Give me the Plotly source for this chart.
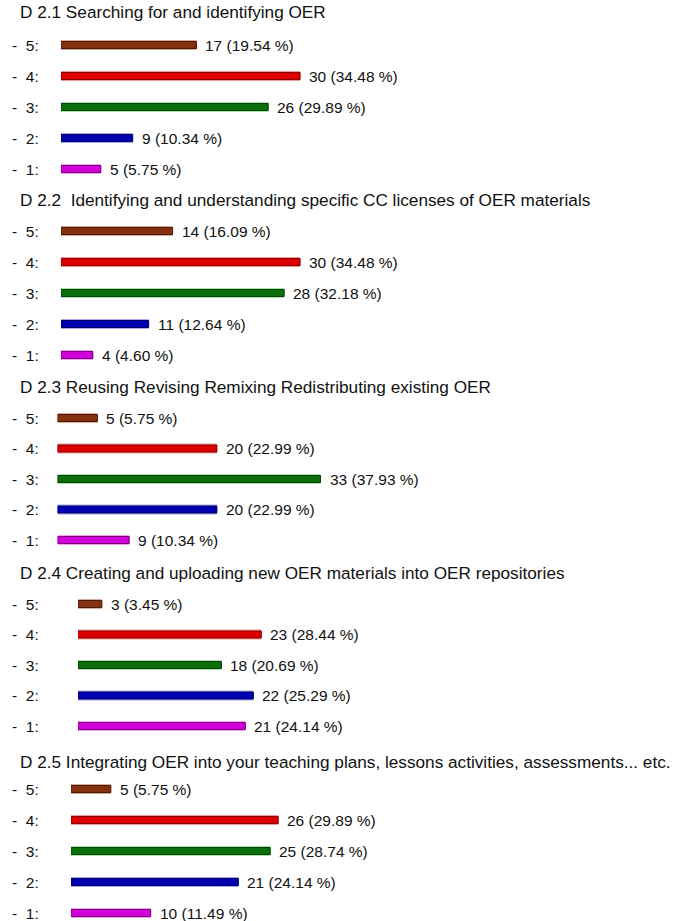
import plotly.graph_objects as go

W, H = 674, 921

titles = [
    "D 2.1 Searching for and identifying OER",
    "D 2.2  Identifying and understanding specific CC licenses of OER materials",
    "D 2.3 Reusing Revising Remixing Redistributing existing OER",
    "D 2.4 Creating and uploading new OER materials into OER repositories",
    "D 2.5 Integrating OER into your teaching plans, lessons activities, assessments... etc.",
]
ratings = [5, 4, 3, 2, 1]
row_labels = ["- 5:", "- 4:", "- 3:", "- 2:", "- 1:"]
counts = [
    [17, 30, 26, 9, 5],
    [14, 30, 28, 11, 4],
    [5, 20, 33, 20, 9],
    [3, 23, 18, 22, 21],
    [5, 26, 25, 21, 10],
]
percents = [
    ["19.54", "34.48", "29.89", "10.34", "5.75"],
    ["16.09", "34.48", "32.18", "12.64", "4.60"],
    ["5.75", "22.99", "37.93", "22.99", "10.34"],
    ["3.45", "28.44", "20.69", "25.29", "24.14"],
    ["5.75", "29.89", "28.74", "24.14", "11.49"],
]
core_colors = ["#85300f", "#dc0000", "#0b6e0b", "#0000b0", "#d000d8"]
glow_colors = ["#dcae94", "#f39a9a", "#a8e6a8", "#a8a8f0", "#f3a0f3"]
edge_colors = ["#4a1a08", "#8a0000", "#064006", "#000066", "#800080"]

# layout (reference pixels)
sec_title_y = [12, 200, 387, 573, 762]
sec_first_row = [45, 231, 418, 604, 789]
sec_pitch = [31, 31, 30.5, 30.5, 31]
sec_bar_x0 = [61, 61, 57.5, 78, 71]
px_per_unit = 7.97
FONT = "Liberation Sans, Arial, Helvetica, sans-serif"

fig = go.Figure()
annotations = []
layout = {}

for i in range(5):
    n = i + 1
    xa = "x" if n == 1 else f"x{n}"
    ya = "y" if n == 1 else f"y{n}"
    pitch = sec_pitch[i]
    top_px = sec_first_row[i] - pitch / 2
    bot_px = sec_first_row[i] + 4 * pitch + pitch / 2
    lo = 0.5
    if bot_px > H:
        lo = 0.5 + (bot_px - H) / pitch
        bot_px = H
    x0 = sec_bar_x0[i]
    layout[f"xaxis{'' if n == 1 else n}"] = dict(
        domain=[x0 / W, 1], range=[0, (W - x0) / px_per_unit],
        visible=False, fixedrange=True, anchor=ya)
    layout[f"yaxis{'' if n == 1 else n}"] = dict(
        domain=[1 - bot_px / H, 1 - top_px / H], range=[lo, 5.5],
        visible=False, fixedrange=True, anchor=xa)

    # glow bars
    fig.add_trace(go.Bar(
        x=counts[i], y=ratings, orientation="h", width=10 / pitch,
        marker=dict(color=glow_colors, line=dict(width=0)),
        xaxis=xa, yaxis=ya, hoverinfo="skip", showlegend=False))
    # core bars
    fig.add_trace(go.Bar(
        x=counts[i], y=ratings, orientation="h", width=7 / pitch,
        marker=dict(color=core_colors, line=dict(width=1, color=edge_colors)),
        xaxis=xa, yaxis=ya, showlegend=False))

    annotations.append(dict(
        text=titles[i], xref="paper", yref="paper", x=18 / W,
        y=1 - sec_title_y[i] / H, xanchor="left", yanchor="middle",
        showarrow=False, font=dict(size=17.2, color="#111111", family=FONT)))
    for j in range(5):
        annotations.append(dict(
            text=row_labels[j].replace(" ", "\u00a0\u00a0"),
            xref="paper", yref=ya, x=10 / W, y=ratings[j],
            xanchor="left", yanchor="middle", showarrow=False,
            font=dict(size=15.5, color="#111111", family=FONT)))
        annotations.append(dict(
            text=f"{counts[i][j]} ({percents[i][j]} %)",
            xref=xa, yref=ya, x=counts[i][j], y=ratings[j],
            xanchor="left", yanchor="middle", xshift=7, showarrow=False,
            font=dict(size=15.5, color="#111111", family=FONT)))

fig.update_layout(
    width=W, height=H, autosize=False,
    margin=dict(l=0, r=0, t=0, b=0),
    paper_bgcolor="white", plot_bgcolor="white",
    barmode="overlay", showlegend=False,
    annotations=annotations, **layout)

fig.write_html(
    "out.html",
    config={"displayModeBar": False, "staticPlot": True},
    post_script="document.body.style.margin='0';document.body.style.overflow='hidden';")
